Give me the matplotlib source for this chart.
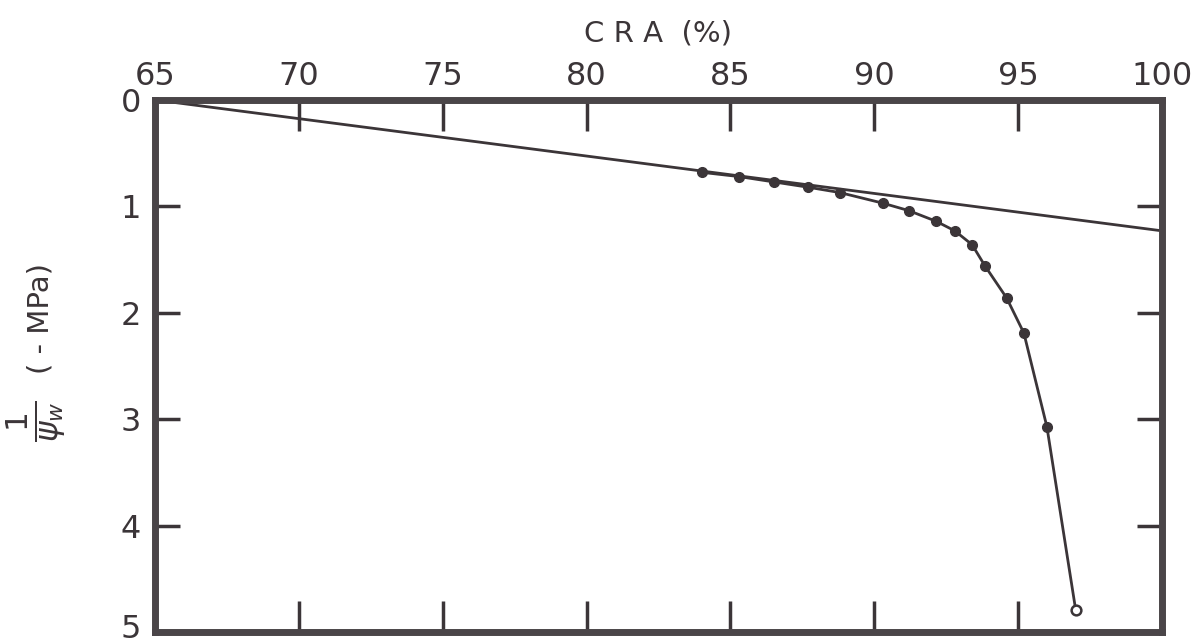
import numpy as np
import matplotlib
matplotlib.use("Agg")
import matplotlib.pyplot as plt
from matplotlib.transforms import ScaledTranslation

# CRA (%) と 1/psi_w (-MPa) の測定点
cra = [84.0, 85.3, 86.5, 87.7, 88.8, 90.3, 91.2, 92.15, 92.8, 93.4,
       93.85, 94.6, 95.2, 96.0]
inv_psi = [0.68, 0.72, 0.77, 0.82, 0.87, 0.97, 1.04, 1.14, 1.23, 1.36,
           1.56, 1.86, 2.19, 3.07]

# 最後の点（白抜き）
cra_last = [97.0]
inv_psi_last = [4.79]

# 直線部分
line_x = [65, 100]
line_y = [0.0, 1.23]

x_ticks = [65, 70, 75, 80, 85, 90, 95, 100]
y_ticks = [0, 1, 2, 3, 4, 5]

ink = "#3b3538"
frame = "#4a4548"

fig = plt.figure(figsize=(11.99, 6.44), dpi=100)
ax = fig.add_axes([0.1293, 0.0186, 0.8398, 0.8262])

ax.plot(line_x, line_y, color=ink, linewidth=2)
ax.plot(cra + cra_last, inv_psi + inv_psi_last, color=ink, linewidth=2)
ax.plot(cra, inv_psi, "o", color=ink, markersize=7)
ax.plot(cra_last, inv_psi_last, "o", color=ink, markerfacecolor="white",
        markersize=7, markeredgewidth=1.8)

ax.set_xlim(65, 100)
ax.set_ylim(5, 0)

ax.set_xticks(x_ticks)
ax.set_yticks(y_ticks)
ax.xaxis.set_ticks_position("both")
ax.yaxis.set_ticks_position("both")
ax.tick_params(axis="both", direction="in", length=22, width=2.5, color=ink,
               labelsize=23, labelcolor=ink)
ax.tick_params(axis="y", length=18)
ax.tick_params(axis="x", labeltop=True, labelbottom=False, pad=6)
ax.tick_params(axis="y", labelleft=True, labelright=False, pad=10)

# 一番下の "5" は少しだけ上へ（はみ出し防止）
last_tick = ax.yaxis.get_major_ticks()[-1]
last_tick.label1.set_transform(
    last_tick.label1.get_transform() + ScaledTranslation(0, 4 / 72, fig.dpi_scale_trans))

for s in ax.spines.values():
    s.set_linewidth(5)
    s.set_color(frame)

ax.xaxis.set_label_position("top")
ax.set_xlabel("C R A  (%)", fontsize=21, color=ink, labelpad=14)

# 縦軸ラベル: 1/ψw (-MPa)
fig.text(0.030, 0.345, r"$\frac{1}{\psi_w}$", rotation=90, fontsize=32,
         color=ink, ha="center", va="center")
fig.text(0.034, 0.505, "( - MPa)", rotation=90, fontsize=21,
         color=ink, ha="center", va="center")

fig.savefig("out.png", dpi=100)
